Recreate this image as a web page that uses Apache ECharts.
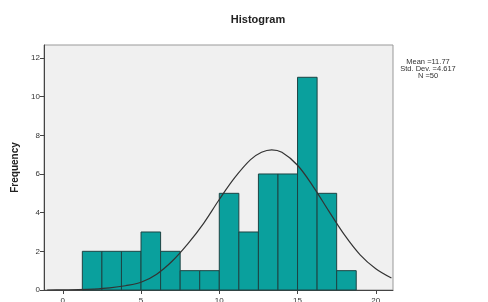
<!DOCTYPE html>
<html>
<head>
<meta charset="utf-8">
<script src="https://cdn.jsdelivr.net/npm/echarts@6/dist/echarts.min.js"></script>
<style>
  html, body { margin: 0; padding: 0; background: #fff; }
  #main { width: 488px; height: 302px; }
</style>
</head>
<body>
<div id="main"></div>
<script>
// histogram bins (left edge) and counts
const binStarts = [1.25, 2.5, 3.75, 5, 6.25, 7.5, 8.75, 10, 11.25, 12.5, 13.75, 15, 16.25, 17.5]
const binWidth = 1.25
const counts = [2, 2, 2, 3, 2, 1, 1, 5, 3, 6, 6, 11, 5, 1]

// normal curve
const curveX = [-1, 0, 1, 2, 3, 4, 5, 6, 7, 8, 9, 10, 11, 12, 12.7, 13.35, 14, 15, 16, 17, 18, 19, 20, 21]
const curveY = [0.0, 0.01, 0.02, 0.05, 0.11, 0.22, 0.4, 0.82, 1.5, 2.4, 3.45, 4.68, 5.82, 6.74, 7.12, 7.25, 7.12, 6.45, 5.35, 4.08, 2.85, 1.82, 1.1, 0.62]

const xTicks = [0, 5, 10, 15, 20]
const yTicks = [0, 2, 4, 6, 8, 10, 12]

const stats = ['Mean =11.77', 'Std. Dev. =4.617', 'N =50']

const chart = echarts.init(document.getElementById('main'))

const option = {
  animation: false,
  textStyle: { fontFamily: 'Liberation Sans, Arial, sans-serif' },
  title: {
    text: 'Histogram',
    left: 253, top: 9, textAlign: 'center',
    textStyle: { fontSize: 11, fontWeight: 'bold', color: '#222' }
  },
  graphic: [{
    type: 'text', x: 428, y: 58,
    style: {
      text: stats.join('\n'), align: 'center', verticalAlign: 'top',
      font: '7.5px Liberation Sans, Arial, sans-serif', fill: '#333', lineHeight: 7
    }
  }],
  grid: {
    left: 44, right: 95, top: 45, bottom: 12,
    outerBoundsMode: 'none', containLabel: false,
    show: true, backgroundColor: '#f0f0f0', borderColor: '#999', borderWidth: 1
  },
  xAxis: {
    type: 'value', min: -1.2, max: 21.1,
    splitLine: { show: false },
    axisLine: { onZero: false, lineStyle: { color: '#444' } },
    axisTick: { show: true, customValues: xTicks, length: 4, lineStyle: { color: '#444' } },
    axisLabel: { customValues: xTicks, color: '#333', fontSize: 8, margin: 7 }
  },
  yAxis: {
    type: 'value', min: 0, max: 12.67,
    name: 'Frequency', nameLocation: 'middle', nameGap: 16,
    nameTextStyle: { fontSize: 10, fontWeight: 'bold', color: '#222' },
    splitLine: { show: false },
    axisLine: { show: true, onZero: false, lineStyle: { color: '#444' } },
    axisTick: { show: true, customValues: yTicks, length: 4, lineStyle: { color: '#444' } },
    axisLabel: { customValues: yTicks, color: '#333', fontSize: 8, margin: 4 }
  },
  series: [
    {
      type: 'custom',
      data: binStarts.map((s, i) => [s, s + binWidth, counts[i]]),
      encode: { x: [0, 1], y: 2 },
      renderItem: (params, api) => {
        const p0 = api.coord([api.value(0), 0])
        const p1 = api.coord([api.value(1), api.value(2)])
        return {
          type: 'rect',
          shape: { x: p0[0], y: p1[1], width: p1[0] - p0[0], height: p0[1] - p1[1] },
          style: { fill: '#0aa09d', stroke: '#1d4444', lineWidth: 1 }
        }
      }
    },
    {
      type: 'line',
      data: curveX.map((x, i) => [x, curveY[i]]),
      smooth: 0.35, showSymbol: false, clip: true,
      lineStyle: { color: '#333', width: 1.2 },
      z: 5
    }
  ]
}

chart.setOption(option)
</script>
</body>
</html>
